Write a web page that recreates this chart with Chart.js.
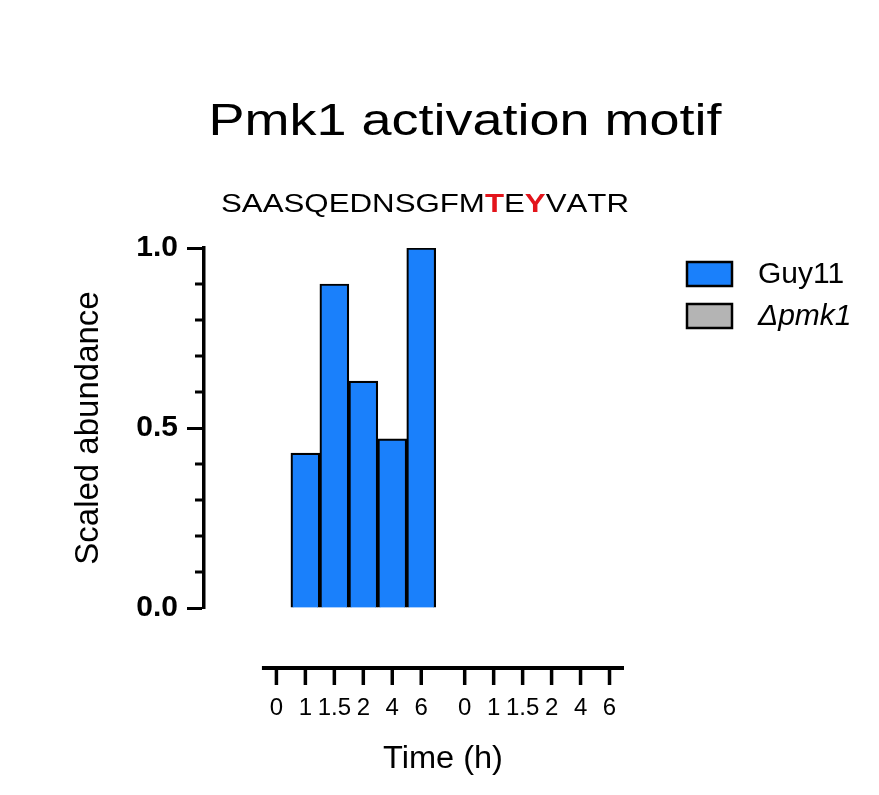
<!DOCTYPE html>
<html>
<head>
<meta charset="utf-8">
<script src="https://cdn.jsdelivr.net/npm/chart.js@4.4.1/dist/chart.umd.min.js"></script>
<style>
	html, body { margin: 0; padding: 0; background: #fff; }
	#wrap { width: 879px; height: 795px; }
</style>
</head>
<body>
<div id="wrap"><canvas id="motifChart" width="879" height="795"></canvas></div>
<script>
// data
const timeLabels = ['0', '1', '1.5', '2', '4', '6'];
const seriesNames = ['Guy11', 'Δpmk1'];
const guy11Values = [0, 0.43, 0.90, 0.63, 0.47, 1.0];
const pmk1Values = [0, 0, 0, 0, 0, 0];
const yTickLabels = ['0.0', '0.5', '1.0'];

const chartTitle = 'Pmk1 activation motif';
const peptide = 'SAASQEDNSGFMTEYVATR';
const redResidues = [12, 14];
const xTitle = 'Time (h)';
const yTitle = 'Scaled abundance';

const FONT = "'Liberation Sans', Arial, Helvetica, sans-serif";
const BLUE = '#1a80fb';
const GREY = '#b4b4b4';

// one slot per time point, second strain after a half-slot gap
const groupSize = timeLabels.length;
function slotOf(group, i) {
	return group * (groupSize + 0.5) + i;
}
const slots = [];
[0, 1].forEach(g => timeLabels.forEach((t, i) => slots.push(slotOf(g, i))));

function isMajor(v) {
	return Math.abs(v * 2 - Math.round(v * 2)) < 1e-6;
}

function drawStretched(ctx, text, cx, baseline, font, sx) {
	ctx.save();
	ctx.font = font;
	ctx.textBaseline = 'alphabetic';
	ctx.textAlign = 'center';
	ctx.translate(cx, baseline);
	ctx.scale(sx, 1);
	ctx.fillText(text, 0, 0);
	ctx.restore();
}

const decorPlugin = {
	id: 'decor',
	afterDraw(chart) {
		const { ctx, chartArea, scales: { x, y } } = chart;
		ctx.save();
		ctx.fillStyle = '#000';

		// title + peptide
		drawStretched(ctx, chartTitle, 465, 135, `45px ${FONT}`, 1.2);

		const pepFont = `25px ${FONT}`;
		const pepBold = `bold 25px ${FONT}`;
		const sx = 1.25;
		let total = 0;
		const widths = [];
		for (let i = 0; i < peptide.length; i++) {
			ctx.font = redResidues.includes(i) ? pepBold : pepFont;
			const w = ctx.measureText(peptide[i]).width;
			widths.push(w);
			total += w;
		}
		ctx.save();
		ctx.translate(425 - total * sx / 2, 212);
		ctx.scale(sx, 1);
		ctx.textAlign = 'left';
		ctx.textBaseline = 'alphabetic';
		let cx = 0;
		for (let i = 0; i < peptide.length; i++) {
			const red = redResidues.includes(i);
			ctx.font = red ? pepBold : pepFont;
			ctx.fillStyle = red ? '#e3141b' : '#000';
			ctx.fillText(peptide[i], cx, 0);
			cx += widths[i];
		}
		ctx.restore();

		// minor ticks on the y axis
		ctx.strokeStyle = '#000';
		ctx.lineWidth = 3;
		y.ticks.forEach(t => {
			if (isMajor(t.value)) return;
			const py = y.getPixelForValue(t.value);
			ctx.beginPath();
			ctx.moveTo(chartArea.left - 9, py);
			ctx.lineTo(chartArea.left, py);
			ctx.stroke();
		});

		// detached x axis
		const axisY = chartArea.bottom + 60;
		ctx.lineWidth = 4;
		ctx.beginPath();
		ctx.moveTo(x.getPixelForValue(-0.5), axisY);
		ctx.lineTo(x.getPixelForValue(12), axisY);
		ctx.stroke();
		ctx.lineWidth = 3.5;
		x.ticks.forEach(t => {
			const px = x.getPixelForValue(t.value);
			ctx.beginPath();
			ctx.moveTo(px, axisY);
			ctx.lineTo(px, axisY + 17);
			ctx.stroke();
		});
		ctx.fillStyle = '#000';
		drawStretched(ctx, xTitle, (x.getPixelForValue(-0.5) + x.getPixelForValue(12)) / 2, 768, `31px ${FONT}`, 1.05);

		// legend
		chart.data.datasets.forEach((ds, i) => {
			const top = 262 + i * 42;
			ctx.fillStyle = ds.backgroundColor;
			ctx.fillRect(687, top, 45, 24);
			ctx.lineWidth = 2.5;
			ctx.strokeStyle = '#000';
			ctx.strokeRect(687, top, 45, 24);
			ctx.fillStyle = '#000';
			ctx.font = (i === 1 ? 'italic ' : '') + `30px ${FONT}`;
			ctx.textAlign = 'left';
			ctx.textBaseline = 'middle';
			ctx.fillText(ds.label, 758, top + 13);
		});
		ctx.restore();
	}
};

const ctx = document.getElementById('motifChart').getContext('2d');
const motifChart = new Chart(ctx, {
	type: 'bar',
	data: {
		datasets: [{
			label: seriesNames[0],
			data: guy11Values.map((v, i) => ({ x: slotOf(0, i), y: v })),
			backgroundColor: BLUE,
			borderColor: '#000',
			borderWidth: 2.2,
			grouped: false,
			barPercentage: 1,
			categoryPercentage: 1
		}, {
			label: seriesNames[1],
			data: pmk1Values.map((v, i) => ({ x: slotOf(1, i), y: v })),
			backgroundColor: GREY,
			borderColor: '#000',
			borderWidth: 2.2,
			grouped: false,
			barPercentage: 1,
			categoryPercentage: 1
		}]
	},
	options: {
		responsive: false,
		animation: false,
		devicePixelRatio: 1,
		layout: {
			padding: { top: 248, right: 255, bottom: 0, left: 0 }
		},
		scales: {
			x: {
				type: 'linear',
				min: -2.5,
				max: 12,
				offset: false,
				grid: { display: false, drawTicks: false },
				border: { display: false },
				afterBuildTicks: scale => {
					scale.ticks = slots.map(v => ({ value: v }));
				},
				afterFit: scale => {
					scale.height = 187;
				},
				ticks: {
					autoSkip: false,
					maxRotation: 0,
					minRotation: 0,
					padding: 86,
					color: '#000',
					font: { family: FONT, size: 24 },
					callback: (value, index) => timeLabels[index % groupSize]
				}
			},
			y: {
				min: 0,
				max: 1,
				grid: {
					drawOnChartArea: false,
					drawTicks: true,
					tickLength: 17,
					tickWidth: 3,
					tickColor: c => (c.tick && isMajor(c.tick.value)) ? '#000' : 'rgba(0,0,0,0)'
				},
				border: { display: true, color: '#000', width: 3.5 },
				afterFit: scale => {
					scale.width = 204;
				},
				ticks: {
					stepSize: 0.1,
					autoSkip: false,
					padding: 9,
					color: '#000',
					font: { family: FONT, size: 30, weight: 'bold' },
					callback: value => isMajor(value) ? yTickLabels[Math.round(value * 2)] : ''
				},
				title: {
					display: true,
					text: yTitle,
					color: '#000',
					font: { family: FONT, size: 33 },
					padding: { top: 69, bottom: 0 }
				}
			}
		},
		plugins: {
			legend: { display: false },
			title: { display: false },
			tooltip: { enabled: false }
		}
	},
	plugins: [decorPlugin]
});
</script>
</body>
</html>
